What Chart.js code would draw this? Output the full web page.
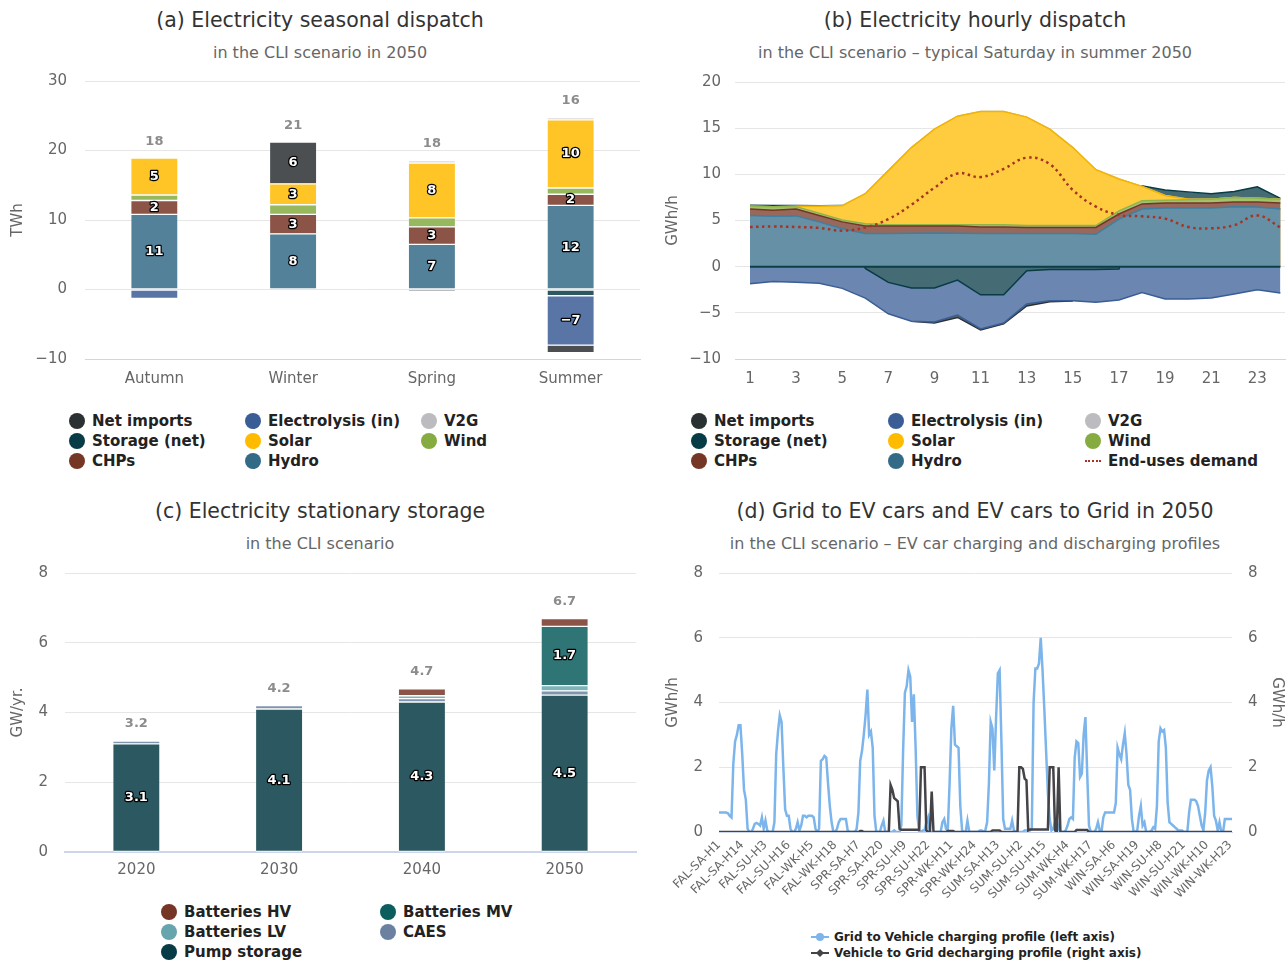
<!DOCTYPE html>
<html>
<head>
<meta charset="utf-8">
<script src="https://cdn.jsdelivr.net/npm/chart.js@4.4.1/dist/chart.umd.min.js"></script>
<style>
  body { margin: 0; background: #fff; font-family: "DejaVu Sans", sans-serif; }
  #page { position: relative; width: 1287px; height: 961px; overflow: hidden; }
  canvas { position: absolute; }
  .title { position: absolute; font-size: 20.5px; line-height: 26px; color: #333; text-align: center; white-space: nowrap; }
  .sub { position: absolute; font-size: 16px; line-height: 20px; color: #666; text-align: center; white-space: nowrap; }
  .legend { position: absolute; display: grid; grid-auto-flow: column; grid-template-rows: repeat(3, 20px);
            font-weight: bold; font-size: 15px; color: #222; }
  .item { display: flex; align-items: center; white-space: nowrap; }
  .dot { width: 16px; height: 16px; border-radius: 50%; margin-right: 7px; flex: none; }
  .dash { width: 16px; height: 0; border-top: 2px dotted #a83224; margin-right: 7px; flex: none; }
  .evlegend { position: absolute; font-weight: bold; font-size: 12px; line-height: 16px; color: #222; }
  .evlegend div { display: flex; align-items: center; }
  .evlegend svg { margin-right: 5px; }
</style>
</head>
<body>
<div id="page">
  <div class="title" style="left:0;top:7px;width:640px">(a) Electricity seasonal dispatch</div>
  <div class="sub" style="left:0;top:43px;width:640px">in the CLI scenario in 2050</div>
  <canvas id="seasonChart" width="643" height="332" style="left:0;top:61px"></canvas>
  <div class="legend" id="seasonLegend" style="left:69px;top:411px;grid-template-columns:repeat(3,176px)"></div>

  <div class="title" style="left:663px;top:7px;width:624px">(b) Electricity hourly dispatch</div>
  <div class="sub" style="left:663px;top:43px;width:624px">in the CLI scenario – typical Saturday in summer 2050</div>
  <canvas id="hourlyChart" width="644" height="332" style="left:643px;top:62px"></canvas>
  <div class="legend" id="hourlyLegend" style="left:691px;top:411px;grid-template-columns:repeat(3,197px)"></div>

  <div class="title" style="left:0;top:498px;width:640px">(c) Electricity stationary storage</div>
  <div class="sub" style="left:0;top:534px;width:640px">in the CLI scenario</div>
  <canvas id="storageChart" width="643" height="332" style="left:0;top:552px"></canvas>
  <div class="legend" id="storageLegend" style="left:161px;top:902px;grid-template-columns:repeat(2,219px)"></div>

  <div class="title" style="left:663px;top:498px;width:624px">(d) Grid to EV cars and EV cars to Grid in 2050</div>
  <div class="sub" style="left:663px;top:534px;width:624px">in the CLI scenario – EV car charging and discharging profiles</div>
  <canvas id="evChart" width="644" height="343" style="left:643px;top:562px"></canvas>
  <div class="evlegend" id="evLegend" style="left:811px;top:929px"></div>
</div>

<script>
// (a) seasonal dispatch, TWh
const seasons = ['Autumn', 'Winter', 'Spring', 'Summer'];
const seasonHydro = [10.8, 8.0, 6.5, 12.1];
const seasonChps = [2.0, 2.8, 2.5, 1.6];
const seasonWind = [0.8, 1.4, 1.3, 0.9];
const seasonSolar = [5.3, 3.0, 7.9, 9.8];
const seasonV2G = [null, null, 0.3, 0.3];
const seasonStorage = [null, null, null, -0.9];
const seasonElectrolysis = [-1.3, null, null, -7.1];
const seasonImports = [null, 6.0, -0.15, -1.1];

// (b) hourly dispatch, GWh/h
const hours = [1, 2, 3, 4, 5, 6, 7, 8, 9, 10, 11, 12, 13, 14, 15, 16, 17, 18, 19, 20, 21, 22, 23, 24];
const hourTicks = [1, 3, 5, 7, 9, 11, 13, 15, 17, 19, 21, 23];
const hourlyHydro = [5.55, 5.45, 5.5, 4.85, 4.1, 3.6, 3.6, 3.62, 3.65, 3.62, 3.6, 3.6, 3.58, 3.6, 3.6, 3.5, 5.15, 6.25, 6.35, 6.35, 6.35, 6.5, 6.45, 6.25];
const hourlyChps = [0.7, 0.65, 0.75, 0.7, 0.75, 0.8, 0.8, 0.78, 0.75, 0.78, 0.7, 0.7, 0.67, 0.65, 0.65, 0.75, 0.55, 0.55, 0.55, 0.55, 0.55, 0.5, 0.55, 0.65];
const hourlyWind = [0.3, 0.4, 0.25, 0.25, 0.2, 0.25, 0.15, 0.15, 0.15, 0.15, 0.25, 0.25, 0.2, 0.2, 0.2, 0.2, 0.35, 0.35, 0.3, 0.35, 0.4, 0.5, 0.4, 0.4];
const hourlySolar = [0, 0, 0.05, 0.75, 1.55, 3.25, 5.85, 8.35, 10.35, 11.75, 12.25, 12.25, 11.75, 10.45, 8.45, 6.05, 3.45, 1.55, 0.5, 0.05, 0, 0, 0, 0];
const hourlyV2G = [0, 0, 0, 0, 0, 0, 0, 0, 0, 0, 0, 0, 0, 0, 0, 0, 0, 0, 0, 0, 0, 0, 0, 0];
const hourlyStorage = [0.1, 0.12, 0.08, 0.05, 0.03, -0.2, -1.7, -2.3, -2.3, -1.45, -3.05, -3.05, -0.45, -0.3, -0.3, -0.3, -0.25, 0.05, 0.6, 0.8, 0.6, 0.65, 1.25, 0.1];
const hourlyElectrolysis = [-1.85, -1.6, -1.7, -1.8, -2.35, -3.2, -3.4, -3.6, -3.7, -3.8, -3.7, -3.05, -3.6, -3.4, -3.4, -3.55, -3.35, -2.8, -3.5, -3.5, -3.4, -2.95, -2.5, -2.85];
const hourlyImports = [null, null, null, null, null, null, null, -0.02, -0.1, -0.25, -0.1, -0.1, -0.2, -0.1, -0.02, null, null, null, null, null, null, null, null, null];
const hourlyDemand = [4.3, 4.35, 4.3, 4.2, 3.9, 4.25, 5.15, 6.7, 8.55, 10.1, 9.7, 10.6, 11.8, 11.1, 8.3, 6.5, 5.6, 5.45, 5.2, 4.3, 4.15, 4.5, 5.55, 4.25];

// (c) stationary storage, GW/yr.
const years = ['2020', '2030', '2040', '2050'];
const pumpStorage = [3.1, 4.1, 4.3, 4.5];
const caes = [0.08, 0.1, 0.1, 0.12];
const batteriesLV = [null, null, 0.08, 0.15];
const batteriesMV = [null, null, null, 1.7];
const batteriesHV = [null, null, 0.2, 0.22];

// (d) EV profiles, 24 h per season / day type block
const evSeasons = ['FAL', 'SPR', 'SUM', 'WIN'];
const evDayTypes = ['SA', 'SU', 'WK'];
const g2vProfile = [
  0.6, 0.6, 0.6, 0.6, 0.6, 0.58, 0.5, 0.45, 2.1, 2.8, 3.0, 3.3, 3.3, 2.4, 1.3, 1.0, 0.1, 0, 0, 0.1, 0.25, 0.28, 0.25, 0.2,
  0.45, 0.1, 0.35, 0.05, 0, 0, 0, 0.3, 2.4, 3.1, 3.6, 3.4, 2.0, 0.7, 0.5, 0.5, 0.1, 0, 0, 0.1, 0.3, 0.05, 0.2, 0.5,
  0.5, 0.45, 0.5, 0.5, 0.5, 0.45, 0.1, 0, 0.1, 2.2, 2.25, 2.35, 2.3, 1.5, 0.8, 0.3, 0, 0, 0.1, 0.3, 0.4, 0.4, 0.4, 0.4,
  0.05, 0, 0, 0, 0, 0.1, 0.6, 2.2, 2.5, 3.0, 3.6, 4.4, 3.0, 3.1, 2.6, 0.5, 0, 0, 0, 0.2, 0.35, 0, 0, 0,
  0, 0, 0.05, 0, 0, 0, 0.2, 2.5, 4.3, 4.5, 5.0, 4.8, 3.4, 4.25, 2.6, 0.5, 0, 0, 0.05, 0.05, 0.3, 0.45, 0, 0,
  0, 0, 0, 0, 0, 0.3, 0.4, 0.1, 0.05, 1.5, 3.2, 3.9, 2.7, 2.65, 2.6, 0.8, 0.05, 0, 0, 0.35, 0, 0, 0, 0,
  0, 0, 0.05, 0.05, 0, 0.05, 0.3, 1.5, 3.4, 3.2, 1.9, 3.5, 4.9, 5.0, 2.8, 0.4, 0.1, 0.1, 0.1, 0.1, 0.35, 0.05, 0, 0,
  0, 0, 0, 0.05, 0.05, 0.05, 0.05, 0.1, 4.0, 5.05, 5.05, 5.2, 6.0, 5.0, 3.8, 2.5, 1.2, 0.4, 0.05, 0.1, 0.3, 0.35, 0.1, 0,
  0, 0, 0.05, 0.2, 0.4, 0.45, 0.4, 2.3, 2.8, 2.75, 1.7, 1.8, 3.0, 3.55, 1.8, 0.2, 0, 0, 0, 0.1, 0.3, 0.05, 0, 0.45,
  0.6, 0.6, 0.6, 0.6, 0.6, 0.6, 0.9, 2.6, 2.4, 2.25, 2.7, 3.05, 2.4, 1.45, 1.3, 0.4, 0, 0, 0.05, 0.5, 0.8, 0.2, 0.3, 0,
  0, 0, 0.05, 0.15, 0.1, 0.8, 2.8, 3.2, 3.1, 3.15, 2.6, 0.9, 0.3, 0.25, 0.2, 0.15, 0.1, 0.05, 0.05, 0.05, 0, 0, 0, 0.6,
  1.0, 1.0, 1.0, 0.95, 0.8, 0.5, 0.2, 0.05, 0.6, 1.6, 1.9, 2.0, 1.4, 0.5, 0.35, 0.05, 0.3, 0, 0, 0.4, 0.4, 0.4, 0.4, 0.4
];
const v2gProfile = [
  0, 0, 0, 0, 0, 0, 0, 0, 0, 0, 0, 0, 0, 0, 0, 0, 0, 0, 0, 0, 0, 0, 0, 0,
  0, 0, 0, 0, 0, 0, 0, 0, 0, 0, 0, 0, 0, 0, 0, 0, 0, 0, 0, 0, 0, 0, 0, 0,
  0, 0, 0, 0, 0, 0, 0, 0, 0, 0, 0, 0, 0, 0, 0, 0, 0, 0, 0, 0, 0, 0, 0, 0,
  0, 0, 0, 0, 0, 0, 0, 0.03, 0.03, 0, 0, 0, 0, 0, 0, 0, 0, 0, 0, 0, 0, 0, 0, 0,
  1.45, 1.3, 1.05, 1.0, 0.95, 0.1, 0.07, 0.07, 0.07, 0.07, 0.07, 0.07, 0.07, 0.07, 0.07, 0.07, 0.07, 2.0, 2.0, 2.0, 0.05, 0, 0, 1.25,
  0, 0, 0, 0, 0, 0, 0, 0, 0.03, 0.03, 0.03, 0.03, 0, 0, 0, 0, 0, 0, 0, 0, 0, 0, 0, 0,
  0, 0, 0, 0, 0, 0, 0, 0, 0, 0.05, 0.05, 0.05, 0.05, 0.05, 0, 0, 0, 0, 0, 0, 0, 0, 0, 0,
  2.0, 2.0, 1.95, 1.65, 1.6, 0.05, 0.08, 0.08, 0.08, 0.08, 0.08, 0.08, 0.08, 0.08, 0.08, 0.08, 0.08, 2.0, 2.0, 2.0, 0.05, 0, 2.0, 0,
  0, 0, 0, 0, 0, 0, 0, 0, 0.06, 0.06, 0.06, 0.06, 0.06, 0.06, 0.06, 0, 0, 0, 0, 0, 0, 0, 0, 0,
  0, 0, 0, 0, 0, 0, 0, 0, 0, 0, 0, 0, 0, 0, 0, 0, 0, 0, 0, 0, 0, 0, 0, 0,
  0, 0, 0, 0, 0, 0, 0, 0, 0, 0, 0, 0, 0, 0, 0, 0, 0, 0, 0, 0, 0, 0, 0, 0,
  0, 0, 0, 0, 0, 0, 0, 0, 0, 0, 0, 0, 0, 0, 0, 0, 0, 0, 0, 0, 0, 0, 0, 0
];

const colors = {
  'Net imports': '#2b3033', 'Storage (net)': '#073b45', 'CHPs': '#763626', 'Electrolysis (in)': '#3a5d96',
  'Solar': '#ffbb00', 'Hydro': '#336b87', 'V2G': '#bcbcc0', 'Wind': '#86ac41',
  'Batteries HV': '#763626', 'Batteries LV': '#66a5ad', 'Pump storage': '#073b45',
  'Batteries MV': '#0b5d5e', 'CAES': '#6b81a0'
};
const dispatchLegend = ['Net imports', 'Storage (net)', 'CHPs', 'Electrolysis (in)', 'Solar', 'Hydro', 'V2G', 'Wind'];

Chart.defaults.font.family = '"DejaVu Sans", sans-serif';
Chart.defaults.color = '#666';

// blend a colour onto white, like a translucent fill
function tint(hex, a) {
  const n = parseInt(hex.slice(1), 16);
  const mix = c => Math.round(c * a + 255 * (1 - a));
  return `rgb(${mix(n >> 16)},${mix((n >> 8) & 255)},${mix(n & 255)})`;
}
const minus = v => String(v).replace('-', '\u2212');

// fixed axis width, no extra label padding so the plot area lands where it should
const fixWidth = w => s => { s.width = w; s.paddingTop = 0; s.paddingBottom = 0; };

// labels inside the stacked bars and the total above each column
const barLabels = {
  id: 'barLabels',
  afterDatasetsDraw(chart, args, opts) {
    const ctx = chart.ctx;
    ctx.save();
    ctx.font = 'bold 13px "DejaVu Sans"';
    ctx.textAlign = 'center';
    ctx.textBaseline = 'middle';
    ctx.lineJoin = 'round';
    chart.data.datasets.forEach((ds, i) => {
      chart.getDatasetMeta(i).data.forEach((bar, j) => {
        const v = ds.data[j];
        if (v === null || Math.abs(v) < opts.min) return;
        const txt = minus(v.toFixed(opts.digits));
        const y = (bar.y + bar.base) / 2;
        ctx.lineWidth = 2.5;
        ctx.strokeStyle = '#000';
        ctx.strokeText(txt, bar.x, y);
        ctx.fillStyle = '#fff';
        ctx.fillText(txt, bar.x, y);
      });
    });
    const yScale = chart.scales.y;
    chart.data.labels.forEach((lab, j) => {
      let top = 0, total = 0;
      chart.data.datasets.forEach(ds => {
        const v = ds.data[j];
        if (v === null) return;
        total += v;
        if (v > 0) top += v;
      });
      const x = chart.getDatasetMeta(0).data[j].x;
      ctx.fillStyle = '#8c8c8c';
      ctx.fillText(total.toFixed(opts.digits), x, yScale.getPixelForValue(top) - 17);
    });
    ctx.restore();
  }
};

function barDataset(name, values) {
  return {
    label: name, data: values, legendColor: colors[name],
    backgroundColor: tint(colors[name], 0.85),
    borderColor: '#fff', borderWidth: {top: 1, bottom: 1, left: 0, right: 0}, borderSkipped: false,
    barThickness: 46
  };
}

function fillLegend(id, chart, order) {
  const box = document.getElementById(id);
  order.forEach(name => {
    const ds = chart.data.datasets.find(d => d.label === name);
    const item = document.createElement('div');
    item.className = 'item';
    const sym = document.createElement('span');
    if (ds.borderDash) {
      sym.className = 'dash';
    } else {
      sym.className = 'dot';
      sym.style.background = ds.legendColor;
    }
    item.appendChild(sym);
    item.appendChild(document.createTextNode(name));
    box.appendChild(item);
  });
}

const tickFont = {size: 15};

// (a)
const seasonChart = new Chart(document.getElementById('seasonChart'), {
  type: 'bar',
  data: {
    labels: seasons,
    datasets: [
      barDataset('Hydro', seasonHydro), barDataset('CHPs', seasonChps), barDataset('Wind', seasonWind),
      barDataset('Solar', seasonSolar), barDataset('V2G', seasonV2G), barDataset('Storage (net)', seasonStorage),
      barDataset('Electrolysis (in)', seasonElectrolysis), barDataset('Net imports', seasonImports)
    ]
  },
  options: {
    responsive: false, animation: false,
    layout: {padding: {top: 20, right: 3, left: 0, bottom: 0}},
    plugins: {legend: {display: false}, tooltip: {enabled: false}, barLabels: {min: 1.5, digits: 0}},
    scales: {
      x: {
        stacked: true, grid: {display: false, drawTicks: false}, border: {color: '#ccd6eb'},
        ticks: {padding: 11, font: tickFont},
        afterFit(s) { s.height = 34; }
      },
      y: {
        stacked: true, min: -10, max: 30,
        ticks: {stepSize: 10, padding: 18, font: tickFont, callback: v => minus(v)},
        grid: {color: '#e6e6e6', drawTicks: false}, border: {display: false},
        title: {display: true, text: 'TWh', font: tickFont, padding: {top: 9}},
        afterFit: fixWidth(85)
      }
    }
  },
  plugins: [barLabels]
});
fillLegend('seasonLegend', seasonChart, dispatchLegend);

// (b)
const zeroLine = {
  id: 'zeroLine',
  afterDatasetsDraw(chart) {
    const {ctx, scales: {x, y}} = chart;
    const py = y.getPixelForValue(0);
    ctx.save();
    ctx.strokeStyle = '#0d3d47';
    ctx.lineWidth = 2;
    ctx.beginPath();
    ctx.moveTo(x.getPixelForValue(hours[0]), py);
    ctx.lineTo(x.getPixelForValue(hours[hours.length - 1]), py);
    ctx.stroke();
    ctx.restore();
  }
};
const lineColors = {'Hydro': '#3f7fa0', 'Solar': '#f2b400', 'Wind': '#8fb44c'};
const hourlySeries = [
  ['Hydro', hourlyHydro], ['CHPs', hourlyChps], ['Wind', hourlyWind], ['Solar', hourlySolar],
  ['V2G', hourlyV2G], ['Storage (net)', hourlyStorage], ['Electrolysis (in)', hourlyElectrolysis], ['Net imports', hourlyImports]
];
const hourlyDatasets = hourlySeries.map(([name, values]) => ({
  label: name, legendColor: colors[name],
  data: values.map((v, i) => ({x: hours[i], y: v})),
  fill: 'origin', backgroundColor: tint(colors[name], 0.75),
  borderColor: lineColors[name] || colors[name], borderWidth: 1.5,
  pointRadius: 0, tension: 0
}));
hourlyDatasets.push({
  label: 'End-uses demand', stack: 'demand', order: -1,
  data: hourlyDemand.map((v, i) => ({x: hours[i], y: v})),
  fill: false, borderColor: '#a83224', borderWidth: 2.5, borderDash: [2.5, 3.5],
  pointRadius: 0, tension: 0.4
});
const hourlyChart = new Chart(document.getElementById('hourlyChart'), {
  type: 'line',
  data: {datasets: hourlyDatasets},
  options: {
    responsive: false, animation: false,
    layout: {padding: {top: 20, right: 2, left: 0, bottom: 0}},
    plugins: {legend: {display: false}, tooltip: {enabled: false}},
    scales: {
      x: {
        type: 'linear', min: 0.35, max: 24.2,
        afterBuildTicks(s) { s.ticks = hourTicks.map(v => ({value: v})); },
        grid: {display: false, drawTicks: false}, border: {color: '#ccd6eb'},
        ticks: {padding: 11, font: tickFont},
        afterFit(s) { s.height = 35; }
      },
      y: {
        stacked: true, min: -10, max: 20,
        ticks: {stepSize: 5, padding: 14, font: tickFont, callback: v => minus(v)},
        grid: {color: '#e6e6e6', drawTicks: false}, border: {display: false},
        title: {display: true, text: 'GWh/h', font: tickFont, padding: {top: 21}},
        afterFit: fixWidth(92)
      }
    }
  },
  plugins: [zeroLine]
});
fillLegend('hourlyLegend', hourlyChart, dispatchLegend.concat(['End-uses demand']));

// (c)
const storageChart = new Chart(document.getElementById('storageChart'), {
  type: 'bar',
  data: {
    labels: years,
    datasets: [
      barDataset('Pump storage', pumpStorage), barDataset('CAES', caes), barDataset('Batteries LV', batteriesLV),
      barDataset('Batteries MV', batteriesMV), barDataset('Batteries HV', batteriesHV)
    ]
  },
  options: {
    responsive: false, animation: false,
    layout: {padding: {top: 21, right: 7, left: 0, bottom: 0}},
    plugins: {legend: {display: false}, tooltip: {enabled: false}, barLabels: {min: 1, digits: 1}},
    scales: {
      x: {
        stacked: true, grid: {display: false, drawTicks: false}, border: {color: '#ccd6eb', width: 2},
        ticks: {padding: 9, font: tickFont},
        afterFit(s) { s.height = 32; }
      },
      y: {
        stacked: true, min: 0, max: 8,
        ticks: {stepSize: 2, padding: 17, font: tickFont},
        grid: {color: '#e6e6e6', drawTicks: false}, border: {display: false},
        title: {display: true, text: 'GW/yr.', font: tickFont, padding: {top: 9}},
        afterFit: fixWidth(65)
      }
    }
  },
  plugins: [barLabels]
});
fillLegend('storageLegend', storageChart, ['Batteries HV', 'Batteries LV', 'Pump storage', 'Batteries MV', 'CAES']);

// (d)
const evLabels = [];
evSeasons.forEach(s => evDayTypes.forEach(d => {
  for (let h = 1; h <= 24; h++) evLabels.push(`${s}-${d}-H${h}`);
}));
const evChart = new Chart(document.getElementById('evChart'), {
  type: 'line',
  data: {
    labels: evLabels,
    datasets: [
      {label: 'Vehicle to Grid decharging profile (right axis)', data: v2gProfile, yAxisID: 'y1', order: 0,
       borderColor: '#434348', borderWidth: 2.5, pointRadius: 0, tension: 0},
      {label: 'Grid to Vehicle charging profile (left axis)', data: g2vProfile, yAxisID: 'y', order: 1,
       borderColor: '#7cb5ec', borderWidth: 2.5, pointRadius: 0, tension: 0}
    ]
  },
  options: {
    responsive: false, animation: false,
    layout: {padding: {top: 11, right: 0, left: 0, bottom: 0}},
    plugins: {legend: {display: false}, tooltip: {enabled: false}},
    scales: {
      x: {
        grid: {display: false, drawTicks: false}, border: {color: '#ccd6eb'},
        ticks: {
          autoSkip: false, maxRotation: 45, minRotation: 45, padding: 6, font: {size: 12},
          callback(v, i) { return i % 13 === 0 ? this.getLabelForValue(v) : ''; }
        },
        afterFit(s) { s.height = 73; }
      },
      y: {
        position: 'left', min: 0, max: 8,
        ticks: {stepSize: 2, padding: 16, font: tickFont},
        grid: {color: '#e6e6e6', drawTicks: false}, border: {display: false},
        title: {display: true, text: 'GWh/h', font: tickFont, padding: {top: 21}},
        afterFit: fixWidth(76)
      },
      y1: {
        position: 'right', min: 0, max: 8,
        ticks: {stepSize: 2, padding: 16, font: tickFont},
        grid: {display: false, drawTicks: false}, border: {display: false},
        title: {display: true, text: 'GWh/h', font: tickFont, padding: {top: 1}},
        afterFit: fixWidth(55)
      }
    }
  }
});

// line + marker legend for (d)
const evLegend = document.getElementById('evLegend');
[evChart.data.datasets[1], evChart.data.datasets[0]].forEach((ds, k) => {
  const row = document.createElement('div');
  const marker = k === 0
    ? `<circle cx="9" cy="5" r="4" fill="${ds.borderColor}"/>`
    : `<path d="M9 1 L13 5 L9 9 L5 5 Z" fill="${ds.borderColor}"/>`;
  row.innerHTML = `<svg width="18" height="10"><line x1="0" y1="5" x2="18" y2="5" stroke="${ds.borderColor}" stroke-width="2"/>${marker}</svg>${ds.label}`;
  evLegend.appendChild(row);
});
</script>
</body>
</html>
